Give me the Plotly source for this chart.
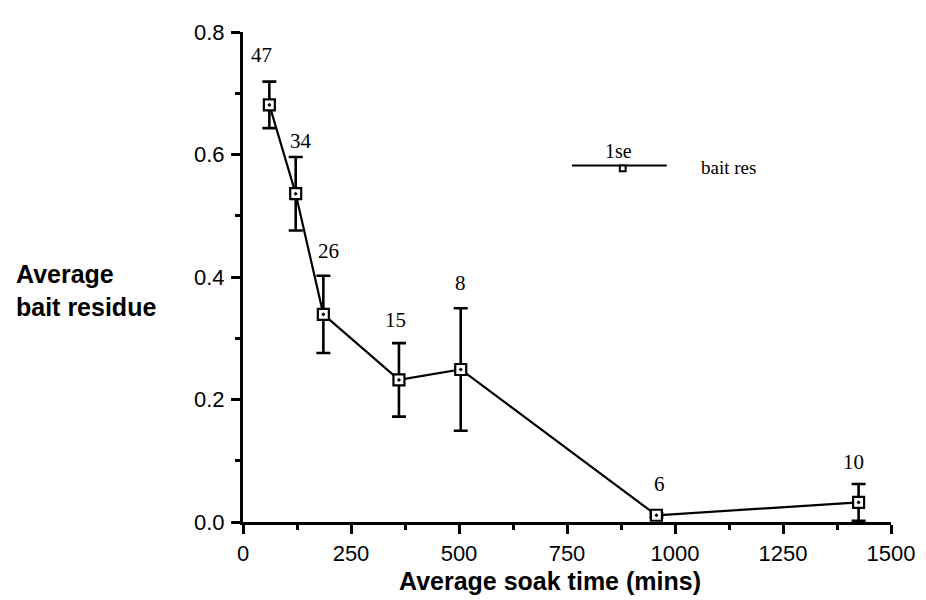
import plotly.graph_objects as go

# Data
soak_time = [61, 122, 186, 361, 504, 957, 1425]
bait_residue = [0.681, 0.536, 0.339, 0.232, 0.249, 0.011, 0.032]
se = [0.038, 0.060, 0.063, 0.060, 0.100, 0.003, 0.030]
n_labels = ["47", "34", "26", "15", "8", "6", "10"]
x_ticks = [0, 250, 500, 750, 1000, 1250, 1500]
y_ticks = [0.0, 0.2, 0.4, 0.6, 0.8]
y_tick_text = ["0.0", "0.2", "0.4", "0.6", "0.8"]

# label offsets (pixels) relative to each point
label_dx = [-8, 5, 5, -3, 0, 3, -5]
label_dy = [50, 53, 63, 60, 86, 31, 40]

SANS = "Liberation Sans, Arial, sans-serif"
SERIF = "Liberation Serif, Times New Roman, serif"

fig = go.Figure()
fig.add_trace(go.Scatter(
    x=soak_time, y=bait_residue, mode="lines+markers",
    line=dict(color="black", width=2.2),
    marker=dict(symbol="square-dot", size=11, color="white",
                line=dict(color="black", width=2.2)),
    error_y=dict(type="data", array=se, visible=True, color="black",
                 thickness=2.6, width=7),
    showlegend=False, cliponaxis=False,
))

for x, y, t, dx, dy in zip(soak_time, bait_residue, n_labels, label_dx, label_dy):
    fig.add_annotation(x=x, y=y, text=t, showarrow=False, xshift=dx, yshift=dy,
                       xanchor="center", yanchor="middle",
                       font=dict(family=SERIF, size=21, color="black"))

# custom legend
fig.add_shape(type="line", xref="paper", yref="paper", x0=0.5077, x1=0.654,
              y0=0.7277, y1=0.7277, line=dict(color="black", width=2))
fig.add_shape(type="rect", xref="paper", yref="paper", x0=0.5815, x1=0.5905,
              y0=0.7157, y1=0.7277, line=dict(color="black", width=2),
              fillcolor="white")
fig.add_annotation(xref="paper", yref="paper", x=0.579, y=0.758, text="1se",
                   showarrow=False, xanchor="center", yanchor="middle",
                   font=dict(family=SERIF, size=20, color="black"))
fig.add_annotation(xref="paper", yref="paper", x=0.703, y=0.724, text="bait res",
                   showarrow=False, xanchor="left", yanchor="middle",
                   font=dict(family=SERIF, size=19, color="black"))

# axis titles
fig.add_annotation(xref="paper", yref="paper", x=0.474, y=0, yshift=-59,
                   text="<b>Average soak time (mins)</b>", showarrow=False,
                   xanchor="center", yanchor="middle",
                   font=dict(family=SANS, size=25, color="black"))
fig.add_annotation(xref="paper", yref="paper", x=-0.3534, y=0.4715,
                   text="<b>Average<br>bait residue</b>", showarrow=False,
                   xanchor="left", yanchor="middle", align="left",
                   font=dict(family=SANS, size=25, color="black"))

fig.update_xaxes(range=[0, 1500], tickvals=x_ticks, ticks="outside", ticklen=9,
                 tickwidth=2.5, tickcolor="black", showline=True, linecolor="black",
                 linewidth=3, showgrid=False, zeroline=False,
                 tickfont=dict(family=SANS, size=22, color="black"),
                 ticklabelstandoff=1,
                 minor=dict(dtick=125, ticks="outside", ticklen=5, tickwidth=2.5,
                            tickcolor="black", showgrid=False))
fig.update_yaxes(range=[0, 0.8], tickvals=y_ticks, ticktext=y_tick_text,
                 ticks="outside", ticklen=9, tickwidth=2.5, tickcolor="black",
                 showline=True, linecolor="black", linewidth=3, showgrid=False,
                 zeroline=False,
                 tickfont=dict(family=SANS, size=22, color="black"),
                 ticklabelstandoff=2,
                 minor=dict(dtick=0.1, ticks="outside", ticklen=5, tickwidth=2.5,
                            tickcolor="black", showgrid=False))

# page body has an 8px default margin; margins compensate for it
fig.update_layout(width=926, height=600, plot_bgcolor="white", paper_bgcolor="white",
                  margin=dict(l=235, r=43, t=15, b=85.5))

fig.write_html("out.html")
